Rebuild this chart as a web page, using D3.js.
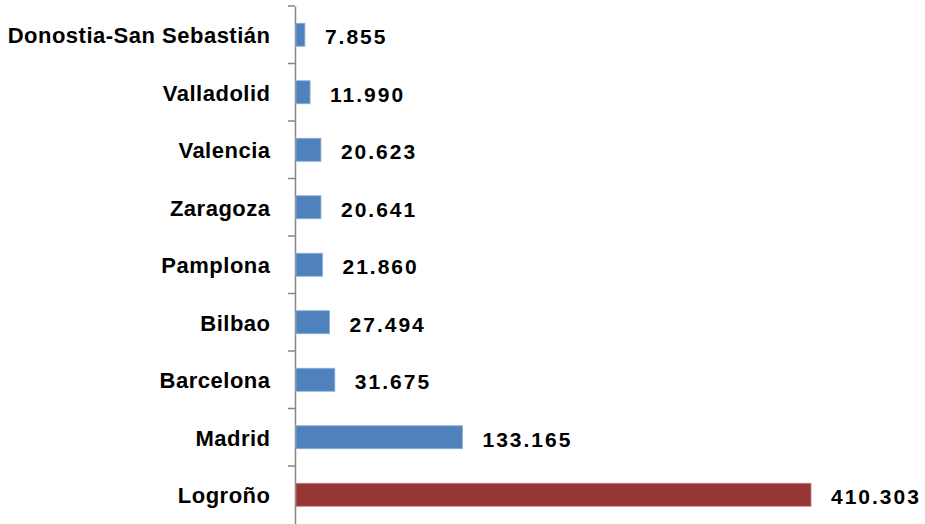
<!DOCTYPE html>
<html><head><meta charset="utf-8">
<script src="https://cdn.jsdelivr.net/npm/d3@7"></script>
<style>body{margin:0;background:#fff}svg{display:block}</style>
</head><body>
<svg id="c" width="925" height="524"></svg>
<script>
const categories = ["Donostia-San Sebastián","Valladolid","Valencia","Zaragoza","Pamplona","Bilbao","Barcelona","Madrid","Logroño"];
const values = [7855, 11990, 20623, 20641, 21860, 27494, 31675, 133165, 410303];
const labels = ["7.855","11.990","20.623","20.641","21.860","27.494","31.675","133.165","410.303"];
const highlight = ["Logroño"];

const svg = d3.select("#c");
const x0 = 295;
const x = d3.scaleLinear().domain([0, 410303]).range([x0, 811]);
const y = d3.scaleBand().domain(categories).range([6, 523.5]).paddingInner(0.6).paddingOuter(0.3);
const yb = d3.scaleBand().domain(categories).range([6, 523.5]);

const axis = d3.axisLeft(yb).tickSize(0).tickFormat("");
const g = svg.append("g").attr("transform", `translate(${x0},0)`).call(axis);
g.select(".domain").attr("stroke", "#868686").attr("stroke-width", 1.5);
const bounds = categories.map(c => yb(c));
g.selectAll("line.bd").data(bounds).join("line").attr("class","bd")
  .attr("x1", -7).attr("x2", 0).attr("y1", d => d).attr("y2", d => d)
  .attr("stroke", "#868686").attr("stroke-width", 1.5);

const font = "'Liberation Sans', Arial, sans-serif";
svg.selectAll("rect.bar").data(categories).join("rect").attr("class","bar")
  .attr("x", x(0) + 1).attr("y", d => y(d))
  .attr("width", (d,i) => x(values[i]) - x(0) - 1).attr("height", y.bandwidth())
  .attr("fill", d => highlight.includes(d) ? "#953735" : "#4F81BD")
  .attr("stroke", d => highlight.includes(d) ? "#c0807e" : "#8fb0d8").attr("stroke-width", 0.8);

svg.selectAll("text.cat").data(categories).join("text").attr("class","cat")
  .attr("x", 270.5).attr("y", d => y(d) + y.bandwidth()/2 + 1)
  .attr("text-anchor", "end").attr("dominant-baseline", "central")
  .attr("font-family", font).attr("font-weight", "bold").attr("font-size", 22)
  .attr("letter-spacing", 0.5)
  .attr("fill", "#000").text(d => d);

svg.selectAll("text.val").data(categories).join("text").attr("class","val")
  .attr("x", (d,i) => x(values[i]) + 20).attr("y", d => y(d) + y.bandwidth()/2 + 2)
  .attr("dominant-baseline", "central")
  .attr("font-family", font).attr("font-weight", "bold").attr("font-size", 21)
  .attr("letter-spacing", 2)
  .attr("fill", "#000").text((d,i) => labels[i]);
</script>
</body></html>
